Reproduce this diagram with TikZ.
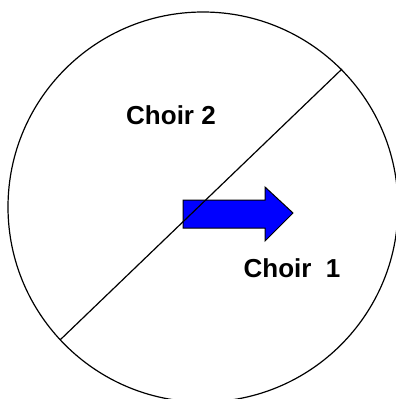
\documentclass[tikz,border=0pt]{standalone}
\usepackage{fontspec}
\setmainfont{Liberation Sans}
\usepackage{tikz}
\usetikzlibrary{positioning}
\definecolor{arrowfill}{HTML}{0000FF}

\begin{document}
\begin{tikzpicture}[
        x=1pt, y=-1pt,
        choir/.style={
            inner sep=0pt,
            anchor=base,
            font=\fontsize{26}{30}\selectfont\bfseries
        },
        rim/.style={draw=black, line width=1.2pt},
        divider/.style={draw=black, line width=1.2pt},
        facing/.style={draw=black, line width=1pt, fill=arrowfill}
    ]
        \useasboundingbox (0,0) rectangle (396,399);

        % Circle
        \coordinate (centre) at (203,207);
        \draw[rim] (centre) circle[radius=195];

        % Direction arrow
        \draw[facing] (183,200) -- (265,200) -- (265,187) -- (293,213)
            -- (265,241) -- (265,228) -- (183,228) -- cycle;

        % Divider
        \coordinate (lowend) at (60,340);
        \coordinate (highend) at (342,69);
        \draw[divider] (lowend) -- (highend);

        % Labels
        \node[choir] (choirtwo) at (171,124) {Choir 2};
        \node[choir] (choirone) at (292,277) {Choir\ \ 1};
    \end{tikzpicture}
\end{document}
